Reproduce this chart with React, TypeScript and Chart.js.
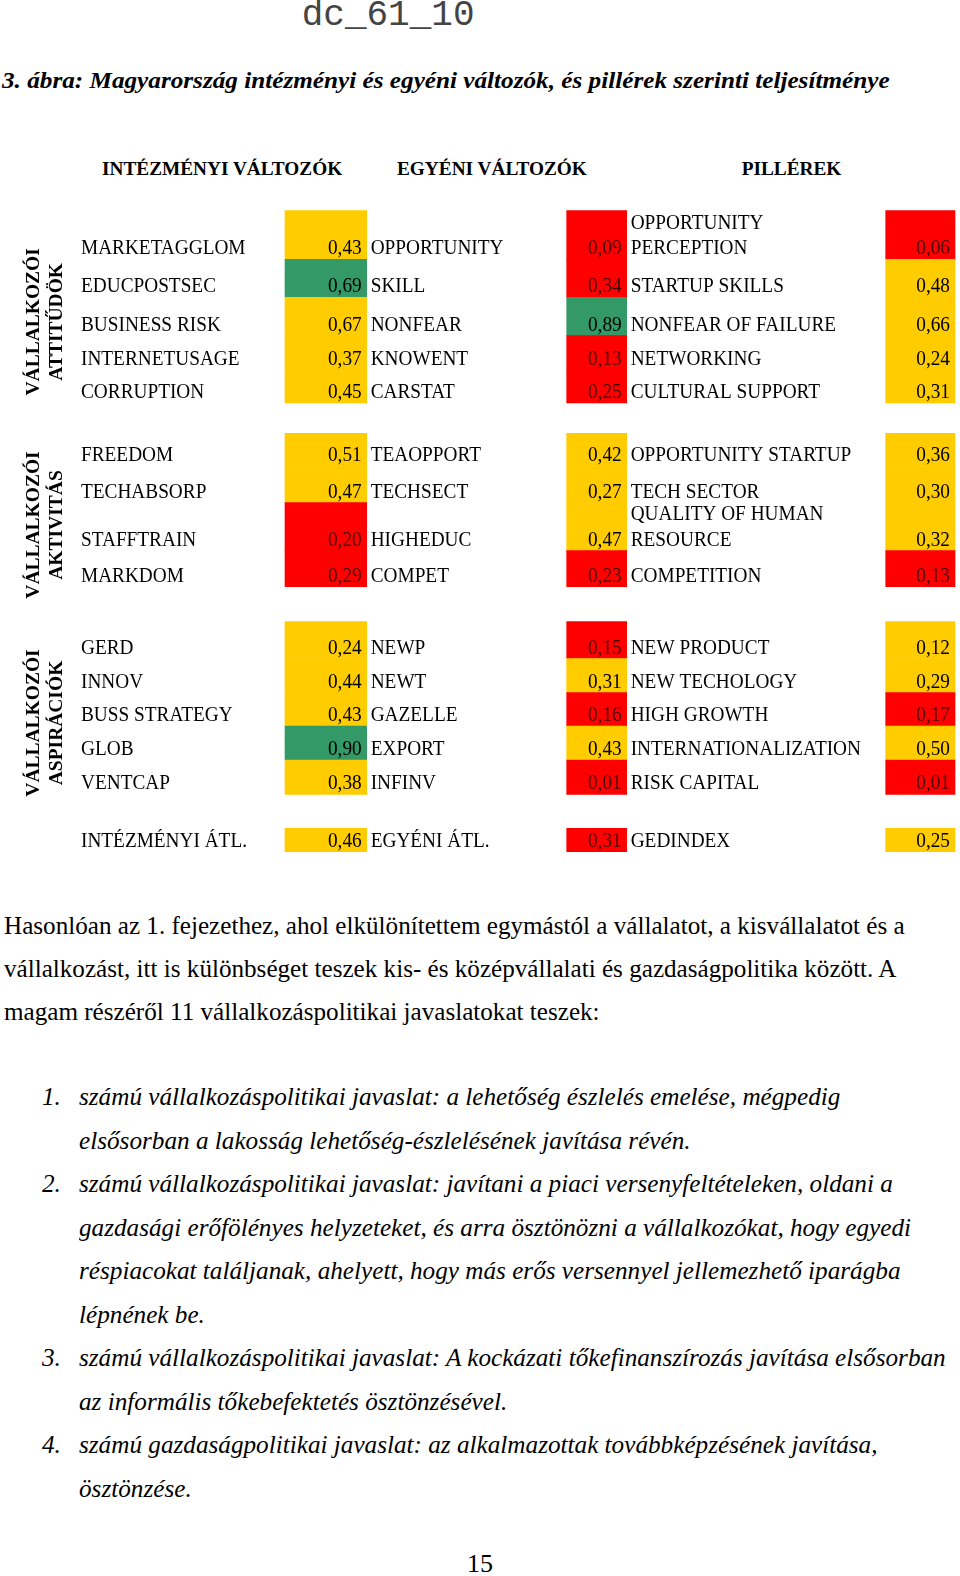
import React, { useEffect, useRef } from 'react';
import { Chart, registerables } from 'chart.js';

Chart.register(...registerables);

// ---------------- DATA ----------------
const COLUMN_HEADERS = ['INTÉZMÉNYI VÁLTOZÓK', 'EGYÉNI VÁLTOZÓK', 'PILLÉREK'];
const BLOCK_NAMES = ['VÁLLALKOZÓI\nATTITŰDÖK', 'VÁLLALKOZÓI\nAKTIVITÁS', 'VÁLLALKOZÓI\nASPIRÁCIÓK'];
const BLOCK_SIZES = [5, 4, 5, 1]; // rows per block; the last block holds the averages

const INST_LABELS = [
  'MARKETAGGLOM', 'EDUCPOSTSEC', 'BUSINESS RISK', 'INTERNETUSAGE', 'CORRUPTION',
  'FREEDOM', 'TECHABSORP', 'STAFFTRAIN', 'MARKDOM',
  'GERD', 'INNOV', 'BUSS STRATEGY', 'GLOB', 'VENTCAP',
  'INTÉZMÉNYI ÁTL.',
];
const INST_VALUES = [0.43, 0.69, 0.67, 0.37, 0.45, 0.51, 0.47, 0.20, 0.29, 0.24, 0.44, 0.43, 0.90, 0.38, 0.46];
const INST_STATUS = ['Y', 'G', 'Y', 'Y', 'Y', 'Y', 'Y', 'R', 'R', 'Y', 'Y', 'Y', 'G', 'Y', 'Y'];

const INDIV_LABELS = [
  'OPPORTUNITY', 'SKILL', 'NONFEAR', 'KNOWENT', 'CARSTAT',
  'TEAOPPORT', 'TECHSECT', 'HIGHEDUC', 'COMPET',
  'NEWP', 'NEWT', 'GAZELLE', 'EXPORT', 'INFINV',
  'EGYÉNI ÁTL.',
];
const INDIV_VALUES = [0.09, 0.34, 0.89, 0.13, 0.25, 0.42, 0.27, 0.47, 0.23, 0.15, 0.31, 0.16, 0.43, 0.01, 0.31];
const INDIV_STATUS = ['R', 'R', 'G', 'R', 'R', 'Y', 'Y', 'Y', 'R', 'R', 'Y', 'R', 'Y', 'R', 'R'];

const PILLAR_LABELS = [
  'OPPORTUNITY\nPERCEPTION', 'STARTUP SKILLS', 'NONFEAR OF FAILURE', 'NETWORKING', 'CULTURAL SUPPORT',
  'OPPORTUNITY STARTUP', 'TECH SECTOR', 'QUALITY OF HUMAN\nRESOURCE', 'COMPETITION',
  'NEW PRODUCT', 'NEW TECHOLOGY', 'HIGH GROWTH', 'INTERNATIONALIZATION', 'RISK CAPITAL',
  'GEDINDEX',
];
const PILLAR_VALUES = [0.06, 0.48, 0.66, 0.24, 0.31, 0.36, 0.30, 0.32, 0.13, 0.12, 0.29, 0.17, 0.50, 0.01, 0.25];
const PILLAR_STATUS = ['R', 'Y', 'Y', 'Y', 'Y', 'Y', 'Y', 'Y', 'R', 'Y', 'Y', 'R', 'Y', 'R', 'Y'];

const DOC_ID = 'dc_61_10';
const TITLE = '3. ábra: Magyarország intézményi és egyéni változók, és pillérek szerinti teljesítménye';
const PARAGRAPH_LINES = [
  'Hasonlóan az 1. fejezethez, ahol elkülönítettem egymástól a vállalatot, a kisvállalatot és a',
  'vállalkozást, itt is különbséget teszek kis- és középvállalati és gazdaságpolitika között. A',
  'magam részéről 11 vállalkozáspolitikai javaslatokat teszek:',
];
const LIST_LINES: [string, string][] = [
  ['1.', 'számú vállalkozáspolitikai javaslat: a lehetőség észlelés emelése, mégpedig'],
  ['', 'elsősorban a lakosság lehetőség-észlelésének javítása révén.'],
  ['2.', 'számú vállalkozáspolitikai javaslat: javítani a piaci versenyfeltételeken, oldani a'],
  ['', 'gazdasági erőfölényes helyzeteket, és arra ösztönözni a vállalkozókat, hogy egyedi'],
  ['', 'réspiacokat találjanak, ahelyett, hogy más erős versennyel jellemezhető iparágba'],
  ['', 'lépnének be.'],
  ['3.', 'számú vállalkozáspolitikai javaslat: A kockázati tőkefinanszírozás javítása elsősorban'],
  ['', 'az informális tőkebefektetés ösztönzésével.'],
  ['4.', 'számú gazdaságpolitikai javaslat: az alkalmazottak továbbképzésének javítása,'],
  ['', 'ösztönzése.'],
];
const PAGE_NUMBER = '15';

// ---------------- LAYOUT / STYLE ----------------
const PAGE_W = 960;
const PAGE_H = 1576;
const SERIF = '"Liberation Serif", "Times New Roman", serif';
const STATUS_COLORS: Record<string, string> = { Y: '#FFCC00', G: '#339966', R: '#FF0000' };
const RED_TEXT = '#4a0000';

const CANVAS_TOP = 190;
const CANVAS_H = 680;
const TABLE_TOP = 210.7;
const BLOCK_GAPS = [0, 30.3, 35, 34];
const ROW_HEIGHTS = [48.6, 38, 38.4, 34.3, 33, 32.2, 37.2, 48, 36, 36.8, 34.2, 33.3, 34, 34.3, 23.4];
const COLS = [
  { labelX: 81, cellL: 285, cellR: 366.7 },
  { labelX: 370.7, cellL: 566.7, cellR: 626.7 },
  { labelX: 630.7, cellL: 885.7, cellR: 955 },
];
const TABLE_FONT = 19.3;
const TABLE_STRETCH = 1.06;
const BLOCK_FONT = 19.5;
const LABEL_LINE_GAP = 25.5;
const BASELINE_INSET = 5;
const VALUE_PAD = 5;
const BLOCK_LABEL_X = [39, 61.5];
const BLOCK_LABEL_SHIFT = 15;

const COLUMNS = [
  { labels: INST_LABELS, values: INST_VALUES, status: INST_STATUS },
  { labels: INDIV_LABELS, values: INDIV_VALUES, status: INDIV_STATUS },
  { labels: PILLAR_LABELS, values: PILLAR_VALUES, status: PILLAR_STATUS },
];

type Row = { top: number; bottom: number; block: number };
function buildRows(): Row[] {
  const out: Row[] = [];
  let y = TABLE_TOP;
  let i = 0;
  BLOCK_SIZES.forEach((n, b) => {
    y += BLOCK_GAPS[b];
    for (let k = 0; k < n; k++) {
      const h = ROW_HEIGHTS[i];
      out.push({ top: y - CANVAS_TOP, bottom: y + h - CANVAS_TOP, block: b });
      y += h;
      i++;
    }
  });
  return out;
}
const ROWS = buildRows();

const fmt = (v: number) => v.toFixed(2).replace('.', ',');

function stretchedText(ctx: CanvasRenderingContext2D, text: string, x: number, y: number, sy: number) {
  ctx.save();
  ctx.translate(x, y);
  ctx.scale(1, sy);
  ctx.fillText(text, 0, 0);
  ctx.restore();
}

const tableTextPlugin = {
  id: 'tableText',
  afterDatasetsDraw(chart: any) {
    const { ctx } = chart;
    const ys = chart.scales.y;
    ctx.save();
    ctx.textBaseline = 'alphabetic';
    ctx.font = `${TABLE_FONT}px ${SERIF}`;
    ROWS.forEach((row, i) => {
      const base = ys.getPixelForValue(row.bottom) - BASELINE_INSET;
      COLUMNS.forEach((col, c) => {
        const xs = chart.scales['x' + c];
        ctx.fillStyle = '#000';
        ctx.textAlign = 'left';
        const lines = col.labels[i].split('\n');
        lines.forEach((ln, k) => {
          stretchedText(ctx, ln, xs.getPixelForValue(COLS[c].labelX), base - (lines.length - 1 - k) * LABEL_LINE_GAP, TABLE_STRETCH);
        });
        ctx.textAlign = 'right';
        ctx.fillStyle = col.status[i] === 'R' ? RED_TEXT : '#000';
        stretchedText(ctx, fmt(col.values[i]), xs.getPixelForValue(COLS[c].cellR - VALUE_PAD), base, TABLE_STRETCH);
      });
    });
    ctx.font = `bold ${BLOCK_FONT}px ${SERIF}`;
    ctx.fillStyle = '#000';
    ctx.textAlign = 'center';
    BLOCK_NAMES.forEach((name, b) => {
      const br = ROWS.filter((r) => r.block === b);
      const mid = (ys.getPixelForValue(br[0].top) + ys.getPixelForValue(br[br.length - 1].bottom)) / 2 + BLOCK_LABEL_SHIFT;
      name.split('\n').forEach((ln, k) => {
        ctx.save();
        ctx.translate(BLOCK_LABEL_X[k], mid);
        ctx.rotate(-Math.PI / 2);
        ctx.fillText(ln, 0, 0);
        ctx.restore();
      });
    });
    ctx.restore();
  },
};

// ---------- text helpers ----------
let measureCtx: CanvasRenderingContext2D | null = null;
function textWidth(text: string, font: string) {
  if (!measureCtx) measureCtx = document.createElement('canvas').getContext('2d');
  measureCtx!.font = font;
  return measureCtx!.measureText(text).width;
}

type LineProps = {
  text: string; x: number; baseline: number; size: number;
  weight?: string; fstyle?: string; family?: string; scaleX?: number; color?: string;
  ascent?: number; descent?: number; align?: 'left' | 'center';
};
function Line({ text, x, baseline, size, weight = 'normal', fstyle = 'normal', family = SERIF, scaleX = 1, color = '#000', ascent = 0.891, descent = 0.216, align = 'left' }: LineProps) {
  const top = baseline - ((1 - (ascent + descent)) / 2 + ascent) * size;
  const style: React.CSSProperties = {
    position: 'absolute', top, fontFamily: family, fontSize: size, fontWeight: weight as any,
    fontStyle: fstyle, lineHeight: `${size}px`, whiteSpace: 'nowrap', color,
    transform: `scaleX(${scaleX})`, transformOrigin: align === 'center' ? '50% 0' : '0 0',
  };
  if (align === 'center') { style.left = 0; style.width = PAGE_W; style.textAlign = 'center'; }
  else style.left = x;
  return <div style={style}>{text}</div>;
}

const hiddenX = { type: 'linear', axis: 'x', min: 0, max: PAGE_W, display: false, offset: false, ticks: { stepSize: PAGE_W } };

function TableChart() {
  const ref = useRef<HTMLCanvasElement | null>(null);
  useEffect(() => {
    if (!ref.current) return;
    const chart = new Chart(ref.current, {
      type: 'bar',
      data: {
        datasets: COLUMNS.map((col, c) => ({
          label: COLUMN_HEADERS[c],
          xAxisID: 'x' + c,
          yAxisID: 'y',
          data: col.values.map((_v, i) => ({
            x: (COLS[c].cellL + COLS[c].cellR) / 2,
            y: [ROWS[i].top, ROWS[i].bottom],
          })),
          backgroundColor: col.status.map((s) => STATUS_COLORS[s]),
          grouped: false,
          categoryPercentage: 1,
          barPercentage: 1,
          maxBarThickness: COLS[c].cellR - COLS[c].cellL,
          borderWidth: 0,
          borderSkipped: false,
        })) as any,
      },
      options: {
        animation: false,
        responsive: false,
        events: [],
        layout: { padding: 0 },
        plugins: { legend: { display: false }, tooltip: { enabled: false }, title: { display: false } },
        scales: {
          x0: { ...hiddenX },
          x1: { ...hiddenX },
          x2: { ...hiddenX },
          y: { type: 'linear', min: 0, max: CANVAS_H, reverse: true, display: false, ticks: { stepSize: CANVAS_H } },
        } as any,
      },
      plugins: [tableTextPlugin],
    });
    return () => chart.destroy();
  }, []);
  return (
    <canvas ref={ref} width={PAGE_W} height={CANVAS_H}
      style={{ position: 'absolute', left: 0, top: CANVAS_TOP, width: PAGE_W, height: CANVAS_H }} />
  );
}

export default function App() {
  const bodyFont = 26;
  const bodyScale = (904.7 - 4) / textWidth(PARAGRAPH_LINES[0], `${bodyFont}px ${SERIF}`);
  const italScale = (947 - 79.4) / textWidth(LIST_LINES[6][1], `italic ${bodyFont}px ${SERIF}`);
  const titleFont = 23;
  const titleScale = (889.6 - 2) / textWidth(TITLE, `italic bold ${titleFont}px ${SERIF}`);
  const headerX = [102, 397, 741.7];
  return (
    <div style={{ position: 'absolute', left: 0, top: 0, width: PAGE_W, height: PAGE_H, overflow: 'hidden', background: '#fff' }}>
      <Line text={DOC_ID} x={301.7} baseline={26} size={36} family='"Liberation Mono", monospace' ascent={0.833} descent={0.3} color="#444" />
      <Line text={TITLE} x={2} baseline={88} size={titleFont} weight="bold" fstyle="italic" scaleX={titleScale} />
      {COLUMN_HEADERS.map((h, i) => (
        <Line key={h} text={h} x={headerX[i]} baseline={175} size={19.3} weight="bold" />
      ))}
      <TableChart />
      {PARAGRAPH_LINES.map((t, i) => (
        <Line key={'p' + i} text={t} x={4} baseline={934.3 + i * 43.2} size={bodyFont} scaleX={bodyScale} />
      ))}
      {LIST_LINES.map(([num, t], i) => (
        <React.Fragment key={'l' + i}>
          {num && <Line text={num} x={42} baseline={1106 + i * 43.5} size={bodyFont} fstyle="italic" scaleX={italScale} />}
          <Line text={t} x={79.4} baseline={1106 + i * 43.5} size={bodyFont} fstyle="italic" scaleX={italScale} />
        </React.Fragment>
      ))}
      <Line text={PAGE_NUMBER} x={0} baseline={1573} size={bodyFont} align="center" />
    </div>
  );
}
